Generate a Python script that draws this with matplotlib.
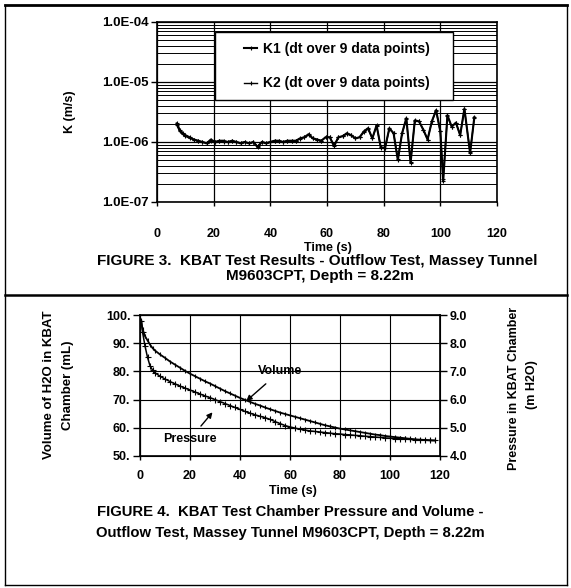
import matplotlib
matplotlib.use("Agg")
import matplotlib.pyplot as plt
from matplotlib.lines import Line2D
from matplotlib.patches import Rectangle
from matplotlib.ticker import LogLocator, NullFormatter

plt.rcParams['font.family'] = ['Liberation Sans', 'DejaVu Sans']
plt.rcParams['font.weight'] = 'bold'

# ---- Figure 3 data: hydraulic conductivity K (x 1e-6 m/s) vs time (s)
k_time = [7, 8, 9, 10, 11.5, 13, 14.5, 16, 17.5, 19, 20.5, 22, 23.5, 25, 26.5,
          28, 29.5, 31, 32.5, 34, 35.5, 37, 38.5, 40, 41.5, 43, 44.5, 46, 47.5,
          49, 50.5, 52, 53.5, 55, 56.5, 58, 59.5, 61, 62.5, 64, 65.5, 67, 68.5,
          70, 71.5, 73, 74.5, 76, 77.5, 79, 80.5, 82, 83.5, 85, 86.5, 88, 89.5,
          91, 92.5, 94, 95.5, 97, 98.5, 100, 101, 102.5, 104, 105.5, 107, 108.5,
          110.5, 112]
k1_e6 = [2.05, 1.6, 1.4, 1.3, 1.2, 1.1, 1.05, 1.0, 0.95, 1.1, 1.0, 1.05, 1.05,
         1.0, 1.05, 1.0, 0.95, 1.0, 0.95, 1.0, 0.82, 1.0, 0.95, 1.0, 1.05, 1.05,
         1.0, 1.05, 1.05, 1.05, 1.15, 1.2, 1.35, 1.15, 1.1, 1.05, 1.2, 1.2, 0.85,
         1.2, 1.25, 1.4, 1.3, 1.15, 1.2, 1.5, 1.7, 1.15, 1.9, 0.8, 0.8, 1.7, 1.4,
         0.5, 1.4, 2.5, 0.45, 2.3, 2.2, 1.6, 1.1, 2.2, 3.4, 1.5, 0.22, 2.8, 1.8,
         2.1, 1.3, 3.6, 0.65, 2.6]
k2_e6 = [1.9, 1.5, 1.35, 1.25, 1.15, 1.1, 1.05, 1.0, 0.97, 1.05, 1.0, 1.05, 1.0,
         1.0, 1.05, 1.0, 0.97, 1.0, 0.95, 1.0, 0.85, 1.0, 0.97, 1.0, 1.05, 1.05,
         1.0, 1.05, 1.05, 1.05, 1.12, 1.2, 1.3, 1.15, 1.1, 1.05, 1.2, 1.2, 0.88,
         1.2, 1.25, 1.35, 1.3, 1.15, 1.2, 1.45, 1.65, 1.15, 1.85, 0.82, 0.8, 1.65,
         1.4, 0.52, 1.4, 2.4, 0.47, 2.25, 2.2, 1.6, 1.1, 2.2, 3.3, 1.5, 0.24, 2.7,
         1.8, 2.1, 1.3, 3.5, 0.68, 2.5]
k_ticks = [1e-7, 1e-6, 1e-5, 1e-4]
k_ticklabels = ["1.0E-07", "1.0E-06", "1.0E-05", "1.0E-04"]
time_ticks = [0, 20, 40, 60, 80, 100, 120]

# ---- Figure 4 data: chamber volume (mL) and pressure (m H2O) vs time (s)
vp_time = [0.5, 1, 2, 3, 4, 5, 6, 8, 10, 12, 14, 16, 18, 20, 22, 24, 26, 28,
           30, 32, 34, 36, 38, 40, 42, 44, 46, 48, 50, 52, 54, 56, 58, 60, 62,
           64, 66, 68, 70, 72, 74, 76, 78, 80, 82, 84, 86, 88, 90, 92, 94, 96,
           98, 100, 102, 104, 106, 108, 110, 112, 114, 116, 118]
volume = [98, 95, 92.5, 91, 89.5, 88.3, 87.4, 86.0, 84.8, 83.5, 82.4, 81.3,
          80.2, 79.2, 78.3, 77.4, 76.5, 75.7, 74.8, 73.9, 73.0, 72.2, 71.4, 70.6,
          69.9, 69.2, 68.5, 67.9, 67.2, 66.6, 66.0, 65.4, 64.9, 64.4, 63.9, 63.4,
          62.9, 62.4, 61.9, 61.4, 60.9, 60.5, 60.1, 59.7, 59.4, 59.1, 58.8, 58.5,
          58.2, 57.9, 57.6, 57.4, 57.1, 56.9, 56.7, 56.5, 56.3, 56.1, 55.9, 55.8,
          55.7, 55.6, 55.5]
pressure = [8.8, 8.4, 7.9, 7.5, 7.2, 7.05, 6.95, 6.83, 6.73, 6.64, 6.56, 6.48,
            6.41, 6.34, 6.27, 6.2, 6.13, 6.07, 6.0, 5.93, 5.86, 5.79, 5.72, 5.65,
            5.58, 5.52, 5.46, 5.41, 5.36, 5.3, 5.22, 5.15, 5.08, 5.03, 4.99, 4.95,
            4.92, 4.89, 4.87, 4.85, 4.83, 4.81, 4.79, 4.78, 4.76, 4.75, 4.73, 4.72,
            4.70, 4.69, 4.67, 4.66, 4.64, 4.63, 4.62, 4.61, 4.6, 4.59, 4.58, 4.57,
            4.56, 4.55, 4.55]
vol_ticks = [50, 60, 70, 80, 90, 100]
vol_ticklabels = ["50.", "60.", "70.", "80.", "90.", "100."]
pres_ticks = [4, 5, 6, 7, 8, 9]
pres_ticklabels = ["4.0", "5.0", "6.0", "7.0", "8.0", "9.0"]

W, H = 571, 588
fig = plt.figure(figsize=(W / 100, H / 100), dpi=100)

# page frame and divider
for (x0, y0, x1, y1, lw) in [(5, 5, 567, 5, 2.0), (5, 585, 567, 585, 1.0),
                             (5, 5, 5, 585, 1.0), (567, 5, 567, 585, 1.0),
                             (5, 295, 567, 295, 1.8)]:
    fig.add_artist(Line2D([x0 / W, x1 / W], [1 - y0 / H, 1 - y1 / H],
                          color='black', lw=lw))

# ---------------- Figure 3
ax1 = fig.add_axes([157 / W, 1 - 202 / H, 340 / W, 180 / H])
ax1.set_yscale('log')
k1 = [v * 1e-6 for v in k1_e6]
k2 = [v * 1e-6 for v in k2_e6]
ax1.plot(k_time, k1, color='black', lw=1.5, marker='+', ms=3, mew=0.8,
         label='K1 (dt over 9 data points)')
ax1.plot(k_time, k2, color='black', lw=1.0, marker='+', ms=3, mew=0.8,
         label='K2 (dt over 9 data points)')
ax1.set_xlim(0, 120)
ax1.set_ylim(1e-7, 1e-4)
ax1.set_yticks(k_ticks)
ax1.set_yticklabels(k_ticklabels)
ax1.yaxis.set_minor_locator(LogLocator(base=10, subs=[2, 3, 4, 5, 6, 7, 8, 9]))
ax1.yaxis.set_minor_formatter(NullFormatter())
ax1.set_xticks(time_ticks)
ax1.grid(True, which='major', color='black', lw=0.9)
ax1.grid(True, which='minor', axis='y', color='black', lw=0.7)
ax1.tick_params(axis='y', which='major', length=4, width=1, labelsize=9.5, pad=2)
ax1.tick_params(axis='y', which='minor', length=0)
ax1.tick_params(axis='x', length=3, width=1, labelsize=9, pad=16)
for sp in ax1.spines.values():
    sp.set_linewidth(1.2)
ax1.set_ylabel('K (m/s)', fontsize=9, fontweight='bold')
ax1.yaxis.set_label_coords(-(157 - 76) / 340, 0.5)

# legend box (white, black edge) with frameless legend centred inside
box_x0, box_x1 = (215 - 157) / 340, (453 - 157) / 340
box_y0, box_y1 = (202 - 100) / 180, (202 - 32) / 180
ax1.add_patch(Rectangle((box_x0, box_y0), box_x1 - box_x0, box_y1 - box_y0,
                        transform=ax1.transAxes, facecolor='white',
                        edgecolor='black', lw=1.0, zorder=4))
leg = ax1.legend(loc='center', bbox_to_anchor=((box_x0 + box_x1) / 2 + 0.008,
                                               (box_y0 + box_y1) / 2),
                 fontsize=10, frameon=False, handlelength=1.0,
                 handletextpad=0.4, labelspacing=1.5, borderpad=0,
                 borderaxespad=0)
leg.set_zorder(5)

fig.text(328 / W, 1 - 248 / H, 'Time (s)', ha='center', va='center', fontsize=9)
fig.text(317 / W, 1 - 261 / H, 'FIGURE 3.  KBAT Test Results - Outflow Test, Massey Tunnel',
         ha='center', va='center', fontsize=11)
fig.text(320 / W, 1 - 276 / H, 'M9603CPT, Depth = 8.22m',
         ha='center', va='center', fontsize=11)

# ---------------- Figure 4
ax2 = fig.add_axes([140 / W, 1 - 456 / H, 300 / W, 141 / H])
ax2.plot(vp_time, volume, color='black', lw=1.3, marker='|', ms=3, mew=0.8)
ax2.set_xlim(0, 120)
ax2.set_ylim(50, 100)
ax2.set_yticks(vol_ticks)
ax2.set_yticklabels(vol_ticklabels)
ax2.set_xticks(time_ticks)
ax2.grid(True, color='black', lw=0.8)
ax2.tick_params(axis='y', length=5, width=1, labelsize=9, pad=2)
ax2.tick_params(axis='x', length=3, width=1, labelsize=9, pad=7)
for sp in ax2.spines.values():
    sp.set_linewidth(1.2)

ax3 = ax2.twinx()
ax3.plot(vp_time, pressure, color='black', lw=1.1, marker='+', ms=4, mew=0.8)
ax3.set_ylim(4, 9)
ax3.set_yticks(pres_ticks)
ax3.set_yticklabels(pres_ticklabels)
ax3.tick_params(axis='y', length=5, width=1, labelsize=9, pad=2)

ax2.annotate('Volume', xy=(42.5, 69.5), xytext=(56, 80), fontsize=9,
             ha='center', va='center',
             arrowprops=dict(arrowstyle='-|>', color='black', lw=1.0,
                             mutation_scale=8, shrinkA=4, shrinkB=0))
ax2.annotate('Pressure', xy=(29, 65.5), xytext=(20, 56), fontsize=9,
             ha='center', va='center',
             arrowprops=dict(arrowstyle='-|>', color='black', lw=1.0,
                             mutation_scale=8, shrinkA=4, shrinkB=0))

fig.text(49 / W, 1 - 385 / H, 'Volume of H2O in KBAT', rotation=90,
         ha='center', va='center', fontsize=9.5)
fig.text(68 / W, 1 - 385 / H, 'Chamber (mL)', rotation=90,
         ha='center', va='center', fontsize=9.5)
fig.text(514 / W, 1 - 388 / H, 'Pressure in KBAT Chamber', rotation=90,
         ha='center', va='center', fontsize=9)
fig.text(532 / W, 1 - 385 / H, '(m H2O)', rotation=90,
         ha='center', va='center', fontsize=9)

fig.text(293 / W, 1 - 491 / H, 'Time (s)', ha='center', va='center', fontsize=9)
fig.text(290 / W, 1 - 512 / H, 'FIGURE 4.  KBAT Test Chamber Pressure and Volume -',
         ha='center', va='center', fontsize=10.7)
fig.text(290 / W, 1 - 533 / H, 'Outflow Test, Massey Tunnel M9603CPT, Depth = 8.22m',
         ha='center', va='center', fontsize=10.7)

fig.savefig('out.png', dpi=100)
